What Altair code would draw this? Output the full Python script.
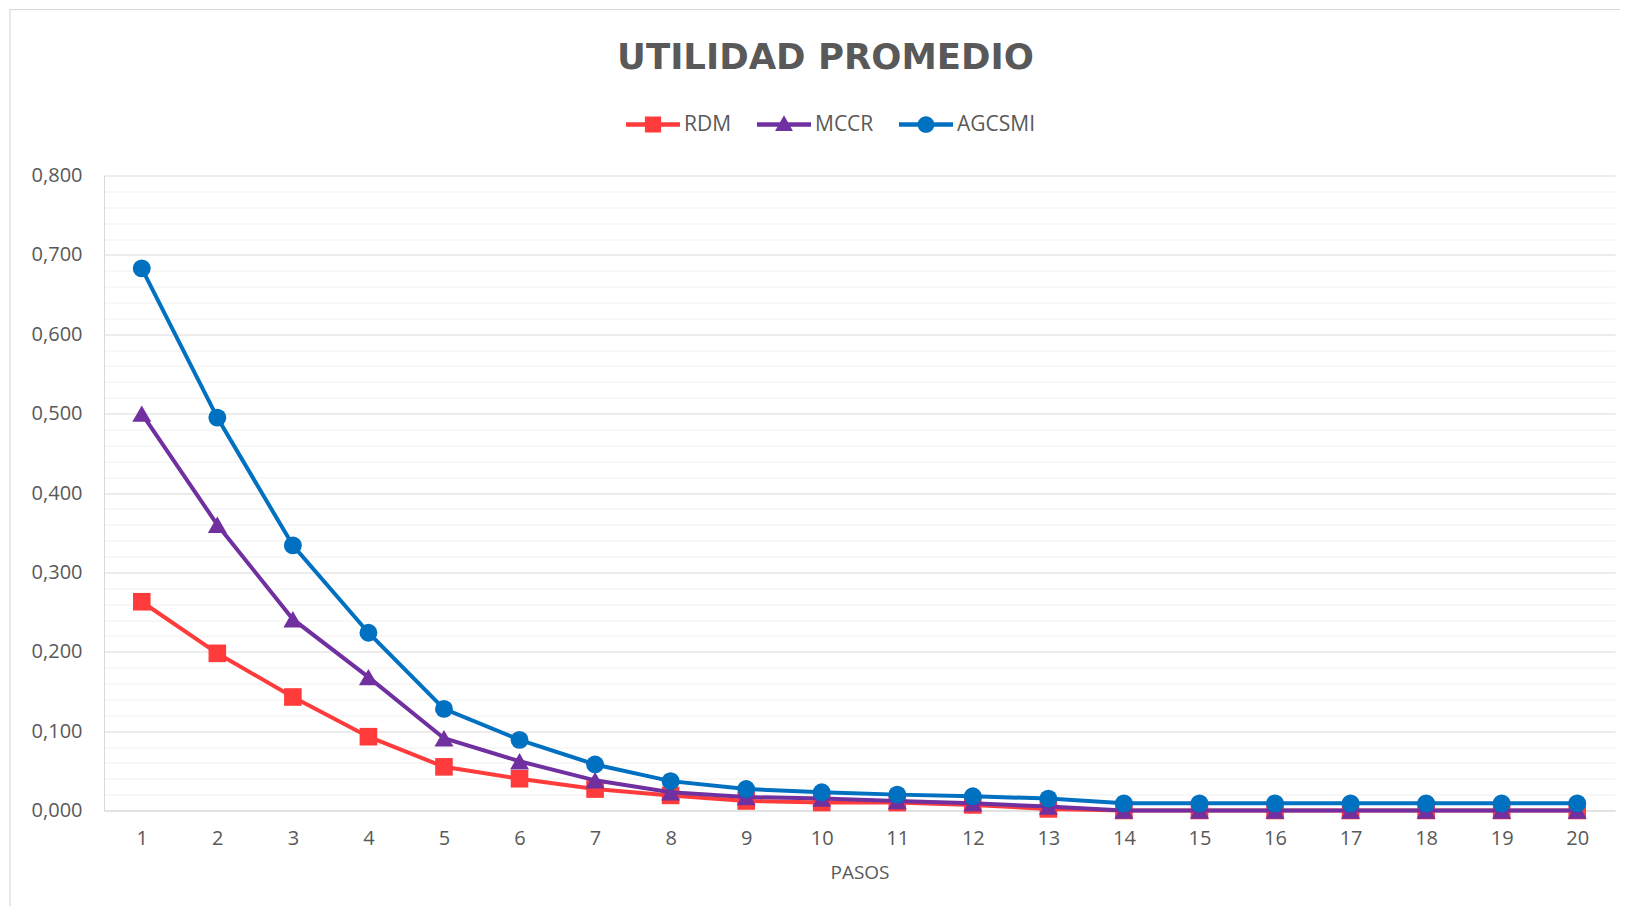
import altair as alt
import pandas as pd

pasos = list(range(1, 21))
series = ["RDM", "MCCR", "AGCSMI"]
rdm = [0.263, 0.198, 0.143, 0.093, 0.055, 0.040, 0.027, 0.019, 0.012, 0.010,
       0.010, 0.007, 0.002, 0.000, 0.000, 0.000, 0.000, 0.000, 0.000, 0.000]
mccr = [0.500, 0.360, 0.241, 0.168, 0.091, 0.062, 0.038, 0.023, 0.017, 0.015,
        0.012, 0.009, 0.005, 0.000, 0.000, 0.000, 0.000, 0.000, 0.000, 0.000]
agcsmi = [0.683, 0.495, 0.334, 0.224, 0.128, 0.089, 0.058, 0.037, 0.027, 0.023,
          0.020, 0.018, 0.015, 0.009, 0.009, 0.009, 0.009, 0.009, 0.009, 0.009]
colores = ["#FF3B3B", "#7030A0", "#0070C0"]
formas = ["square", "triangle-up", "circle"]
formas_leyenda = [
    "M-1,-0.08H1V0.08H-1Z M-0.3,-0.3H0.3V0.3H-0.3Z",
    "M-1,-0.08H1V0.08H-1Z M0,-0.34L0.33,0.24L-0.33,0.24Z",
    "M-1,-0.08H1V0.08H-1Z M-0.31,0A0.31,0.31,0,1,1,0.31,0A0.31,0.31,0,1,1,-0.31,0Z",
]

rows = []
for s, vals in zip(series, [rdm, mccr, agcsmi]):
    for p, v in zip(pasos, vals):
        rows.append({"Paso": p, "Serie": s, "Utilidad": v})
df = pd.DataFrame(rows)

W, H = 1511, 635
FONT = "Open Sans"
GRIS = "#595959"

y_ticks = [round(i * 0.02, 2) for i in range(41)]

x_enc = alt.X(
    "Paso:O",
    scale=alt.Scale(type="point", padding=0.5),
    axis=alt.Axis(title="PASOS", labelAngle=0, ticks=False, labelPadding=18,
                  labelOverlap=False, titlePadding=15, grid=False),
)
y_enc = alt.Y(
    "Utilidad:Q",
    scale=alt.Scale(domain=[0, 0.8], nice=False),
    axis=alt.Axis(
        title=None,
        values=y_ticks,
        ticks=False,
        labelPadding=22,
        labelOverlap=False,
        labelExpr="abs(datum.value*10 - round(datum.value*10)) < 0.0001 ? replace(format(datum.value, '.3f'), '.', ',') : ''",
        grid=True,
        gridColor={"condition": {"test": "abs(datum.value*10 - round(datum.value*10)) < 0.0001", "value": "#d9d9d9"}, "value": "#f0f0f0"},
    ),
)

border = alt.Chart(alt.Data(values=[{}])).mark_rect(
    fill="transparent", stroke="#d9d9d9", strokeWidth=1.2
).encode(x=alt.value(-94), x2=alt.value(W + 300), y=alt.value(-166), y2=alt.value(H + 300))

tam = {"square": 310, "triangle-up": 360, "circle": 320}
layers = [border]
for s, c, f in zip(series, colores, formas):
    base = alt.Chart(df).transform_filter(alt.datum.Serie == s)
    layers.append(base.mark_line(color=c, strokeWidth=4).encode(x=x_enc, y=y_enc))
    layers.append(base.mark_point(color=c, filled=True, opacity=1, shape=f, size=tam[f]).encode(x=x_enc, y=y_enc))

leg = alt.Legend(
    title=None, orient="none", legendX=522, legendY=-78, direction="horizontal",
    symbolSize=2916, symbolOpacity=1, symbolStrokeWidth=0,
    labelFont=FONT, labelFontSize=21, labelColor=GRIS, labelOffset=4,
    columnPadding=25, padding=0,
)
legend_layer = alt.Chart(df).mark_point(filled=True, opacity=0).encode(
    x=x_enc, y=y_enc,
    color=alt.Color("Serie:N", scale=alt.Scale(domain=series, range=colores), legend=leg),
    shape=alt.Shape("Serie:N", scale=alt.Scale(domain=series, range=formas_leyenda), legend=leg),
)
layers.append(legend_layer)

chart = alt.layer(*layers).properties(
    width=W, height=H,
    title=alt.TitleParams("UTILIDAD PROMEDIO", font="DejaVu Sans", fontSize=35.5, fontWeight="bold",
                          color=GRIS, anchor="middle", frame="group", dx=-34, offset=-68),
    autosize=alt.AutoSizeParams(type="none"),
    padding={"left": 96, "top": 167.5, "right": 5, "bottom": 95},
).configure_view(stroke=None).configure_axis(
    domainColor="#d9d9d9", domainWidth=1,
    labelFont=FONT, labelFontSize=20, labelColor=GRIS,
    titleFont=FONT, titleFontSize=19, titleColor=GRIS, titleFontWeight="normal",
)

chart.save("out.html", embed_options={"renderer": "svg", "actions": False})
